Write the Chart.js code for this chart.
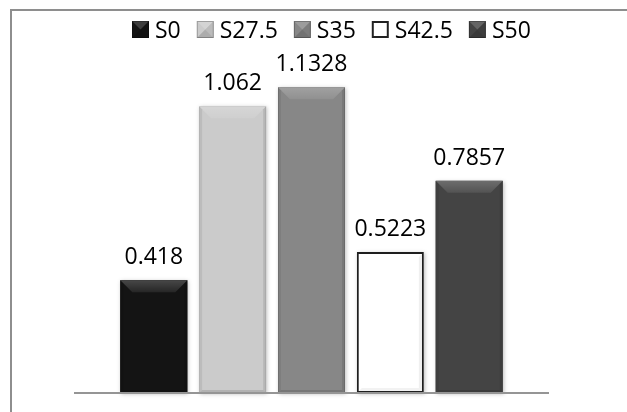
<!DOCTYPE html>
<html>
<head>
<meta charset="utf-8">
<script src="https://cdn.jsdelivr.net/npm/chart.js@4.4.1/dist/chart.umd.min.js"></script>
<style>
  html, body { margin: 0; padding: 0; background: #ffffff; }
  #wrap { position: relative; width: 627px; height: 412px; overflow: hidden; }
  #frame { position: absolute; left: 10px; top: 9px; width: 700px; height: 500px;
           border-left: 2px solid #8e8e8e; border-top: 2px solid #8e8e8e; }
  canvas { position: absolute; left: 0; top: 0; }
</style>
</head>
<body>
<div id="wrap">
  <div id="frame"></div>
  <canvas id="c" width="627" height="412"></canvas>
</div>
<script>
// ---- data ----
const seriesNames = ['S0', 'S27.5', 'S35', 'S42.5', 'S50'];
const seriesValues = [0.418, 1.062, 1.1328, 0.5223, 0.7857];
const valueLabels = ['0.418', '1.062', '1.1328', '0.5223', '0.7857'];
const categories = [''];

// ---- styles ----
const fillColors = ['#141414', '#cbcbcb', '#878787', '#ffffff', '#444444'];
const borderColors = ['#141414', '#b9b9b9', '#777777', '#1e1e1e', '#3a3a3a'];
const borderWidths = [0, 1, 1, 2, 0];
const FONT = '"Open Sans", "Noto Sans", sans-serif';
const FONT_SIZE = 23;

const datasets = seriesNames.map((name, i) => ({
  label: name,
  data: [seriesValues[i]],
  backgroundColor: fillColors[i],
  borderColor: borderColors[i],
  borderWidth: borderWidths[i],
  borderSkipped: false,
  categoryPercentage: 0.83,
  barPercentage: 0.85
}));

function shade(ctx, pts, color) {
  ctx.beginPath();
  ctx.moveTo(pts[0][0], pts[0][1]);
  for (let k = 1; k < pts.length; k++) ctx.lineTo(pts[k][0], pts[k][1]);
  ctx.closePath();
  ctx.fillStyle = color;
  ctx.fill();
}

const bevelPlugin = {
  id: 'bevel',
  beforeDatasetsDraw(chart) {
    const ctx = chart.ctx;
    chart.data.datasets.forEach((ds, i) => {
      const el = chart.getDatasetMeta(i).data[0];
      const x0 = el.x - el.width / 2;
      ctx.save();
      ctx.shadowColor = 'rgba(0,0,0,0.25)';
      ctx.shadowBlur = 4;
      ctx.shadowOffsetX = 1;
      ctx.shadowOffsetY = 1;
      ctx.fillStyle = fillColors[i];
      ctx.fillRect(x0, el.y, el.width, el.base - el.y);
      ctx.restore();
    });
  },
  afterDatasetsDraw(chart) {
    const ctx = chart.ctx;
    chart.data.datasets.forEach((ds, i) => {
      const el = chart.getDatasetMeta(i).data[0];
      const x0 = el.x - el.width / 2, x1 = el.x + el.width / 2;
      const y0 = el.y, y1 = el.base;
      const b = 12, s = 3;
      const white = i === 3;
      ctx.save();
      if (!white) {
        // top trapezoid (lighter)
        const g = ctx.createLinearGradient(0, y0, 0, y0 + b);
        g.addColorStop(0, 'rgba(255,255,255,0.22)');
        g.addColorStop(1, 'rgba(255,255,255,0.08)');
        shade(ctx, [[x0, y0], [x1, y0], [x1 - b, y0 + b], [x0 + b, y0 + b]], g);
        // side strips (slightly darker)
        shade(ctx, [[x0, y0], [x0 + s, y0 + s], [x0 + s, y1 - s], [x0, y1]], 'rgba(0,0,0,0.07)');
        shade(ctx, [[x1, y0], [x1 - s, y0 + s], [x1 - s, y1 - s], [x1, y1]], 'rgba(0,0,0,0.10)');
        // bottom strip
        shade(ctx, [[x0, y1], [x1, y1], [x1 - s, y1 - s], [x0 + s, y1 - s]], 'rgba(0,0,0,0.12)');
      } else {
        shade(ctx, [[x0 + 2, y1 - 2], [x1 - 2, y1 - 2], [x1 - 5, y1 - 5], [x0 + 5, y1 - 5]], 'rgba(0,0,0,0.05)');
        shade(ctx, [[x1 - 2, y0 + 2], [x1 - 5, y0 + 5], [x1 - 5, y1 - 5], [x1 - 2, y1 - 2]], 'rgba(0,0,0,0.06)');
      }
      ctx.restore();

      // value label
      ctx.save();
      ctx.font = FONT_SIZE + 'px ' + FONT;
      ctx.fillStyle = '#000000';
      ctx.textAlign = 'center';
      ctx.textBaseline = 'alphabetic';
      ctx.fillText(valueLabels[i], el.x, el.y - 16);
      ctx.restore();
    });

    // baseline
    const ys = chart.scales.y;
    const y = ys.getPixelForValue(0);
    ctx.save();
    ctx.strokeStyle = '#959595';
    ctx.lineWidth = 2;
    ctx.beginPath();
    ctx.moveTo(chart.chartArea.left, y);
    ctx.lineTo(chart.chartArea.right, y);
    ctx.stroke();
    ctx.restore();
  }
};

const legendPlugin = {
  id: 'customLegend',
  afterDraw(chart) {
    const ctx = chart.ctx;
    ctx.save();
    ctx.font = FONT_SIZE + 'px ' + FONT;
    ctx.textBaseline = 'alphabetic';
    ctx.textAlign = 'left';
    let x = 132;
    const boxTop = 21, box = 17, textBase = 38;
    chart.data.datasets.forEach((ds, i) => {
      ctx.fillStyle = fillColors[i];
      ctx.fillRect(x, boxTop, box, box);
      const cx = x + box / 2, cy = boxTop + box / 2;
      if (i !== 3) {
        shade(ctx, [[x, boxTop], [x + box, boxTop], [cx, cy]], 'rgba(255,255,255,0.18)');
        shade(ctx, [[x, boxTop + box], [x + box, boxTop + box], [cx, cy]], 'rgba(0,0,0,0.15)');
        shade(ctx, [[x + box, boxTop], [x + box, boxTop + box], [cx, cy]], 'rgba(0,0,0,0.08)');
      }
      ctx.lineWidth = i === 3 ? 2 : 1;
      ctx.strokeStyle = i === 3 ? '#222222' : 'rgba(0,0,0,0.25)';
      if (i === 3) ctx.strokeRect(x + 1, boxTop + 1, box - 2, box - 2);
      else ctx.strokeRect(x + 0.5, boxTop + 0.5, box - 1, box - 1);
      ctx.fillStyle = '#000000';
      ctx.fillText(ds.label, x + box + 6, textBase);
      x += box + 6 + ctx.measureText(ds.label).width + 16;
    });
    ctx.restore();
  }
};

new Chart(document.getElementById('c'), {
  type: 'bar',
  data: { labels: categories, datasets: datasets },
  options: {
    responsive: false,
    animation: false,
    layout: { padding: { left: 74, right: 78, top: 69, bottom: 19 } },
    plugins: { legend: { display: false }, tooltip: { enabled: false } },
    scales: {
      x: { display: false },
      y: { display: false, min: 0, max: 1.2 }
    }
  },
  plugins: [bevelPlugin, legendPlugin]
});
</script>
</body>
</html>
